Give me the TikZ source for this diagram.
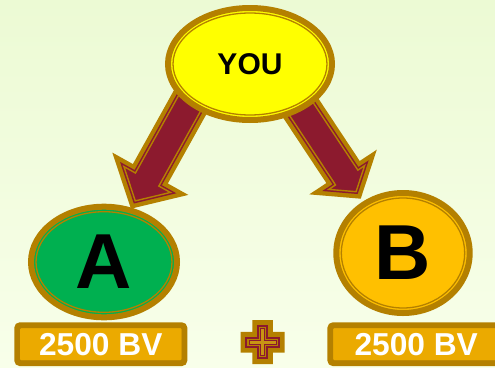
\documentclass[tikz,border=0pt]{standalone}
\usepackage{fontspec}
\setmainfont{Liberation Sans}
\usetikzlibrary{shapes.geometric}
\definecolor{bord}{RGB}{180,128,0}
\definecolor{crim}{RGB}{140,26,46}
\definecolor{youyel}{RGB}{255,255,0}
\definecolor{agreen}{RGB}{0,176,80}
\definecolor{bgold}{RGB}{255,192,0}
\definecolor{boxgold}{RGB}{235,170,0}
\definecolor{plusgold}{RGB}{200,148,20}
\definecolor{bgtop}{RGB}{236,250,212}
\definecolor{bgbot}{RGB}{248,255,234}

% one layer of a block arrow, tip at origin, pointing along +x
% #1 length, #2 head length, #3 half head width, #4 half shaft width, #5 inset, #6 style
\newcommand{\arrowlayer}[6]{%
  \pgfmathsetmacro{\akk}{sqrt(1+(#3/#2)^2)}%
  \pgfmathsetmacro{\atipx}{-#5*\akk*#2/#3}%
  \pgfmathsetmacro{\abackx}{-#2+#5}%
  \pgfmathsetmacro{\acory}{#3*(#2-#5)/#2-#5*\akk}%
  \pgfmathsetmacro{\ashy}{#4-#5}%
  \pgfmathsetmacro{\atailx}{-#1+#5}%
  \path[#6] (\atailx,\ashy) -- (\abackx,\ashy) -- (\abackx,\acory) -- (\atipx,0)
     -- (\abackx,-\acory) -- (\abackx,-\ashy) -- (\atailx,-\ashy) -- cycle;
}
% #1 tip coordinate, #2 angle, #3 length, #4 head length, #5 half head width, #6 half shaft width
\newcommand{\blockarrow}[6]{%
  \begin{scope}[shift={(#1)},rotate=#2]
    \arrowlayer{#3}{#4}{#5}{#6}{0}{fill=bord}
    \arrowlayer{#3}{#4}{#5}{#6}{4.4}{fill=crim}
    \arrowlayer{#3}{#4}{#5}{#6}{6.6}{draw=bord,line width=1.4}
  \end{scope}}
% cross outline: #1 half extent, #2 half arm width, #3 style
\newcommand{\crossat}[3]{%
  \path[#3] (#2,#1) -- (#2,#2) -- (#1,#2) -- (#1,-#2) -- (#2,-#2) -- (#2,-#1)
    -- (-#2,-#1) -- (-#2,-#2) -- (-#1,-#2) -- (-#1,#2) -- (-#2,#2) -- (-#2,#1) -- cycle;}

\begin{document}
\begin{tikzpicture}[x=1pt,y=-1pt,
  ring/.style={ellipse, draw=bord, line width=6, inner sep=0},
  innerline/.style={draw=bord, line width=1.3},
  bv/.style={rectangle, rounded corners=3, draw=bord, fill=boxgold, line width=5.5,
    inner sep=0, text=white, font=\bfseries\fontsize{31.7}{32}\selectfont},
  bigletter/.style={font=\bfseries\fontsize{78}{80}\selectfont}]
\useasboundingbox (0,0) rectangle (495,367);
\clip (0,0) rectangle (495,367);
\shade[top color=bgtop, bottom color=bgbot] (0,0) rectangle (495,367);

% arrows
\coordinate (tipa) at (130.9,208.7);
\coordinate (tipb) at (360.7,198.7);
\blockarrow{tipa}{-119.1}{135}{40}{43.5}{20}
\blockarrow{tipb}{-56.5}{130}{32}{40.5}{20}

% YOU
\node[ring, fill=youyel, minimum width=164, minimum height=112,
  font=\bfseries\fontsize{30}{30}\selectfont] (you) at (250,64) {YOU};
\draw[innerline] (you.center) ellipse [x radius=77, y radius=51];

% A
\node[ring, fill=agreen, minimum width=146, minimum height=110.6, bigletter] (a) at (104,262) {A};
\draw[innerline] (a.center) ellipse [x radius=68, y radius=50.3];

% B
\node[ring, fill=bgold, minimum width=133.4, minimum height=120, bigletter] (b) at (403,253) {B};
\draw[innerline] (b.center) ellipse [x radius=61.7, y radius=55];

% boxes
\node[bv, minimum width=167.5, minimum height=38.2] (boxa) at (100.8,344.2) {2500 BV};
\draw[innerline, rounded corners=1.5] ([shift={(5,5)}]boxa.north west) rectangle ([shift={(-5,-5)}]boxa.south east);
\node[bv, minimum width=172, minimum height=38.2] (boxb) at (416.2,344.2) {2500 BV};
\draw[innerline, rounded corners=1.5] ([shift={(5,5)}]boxb.north west) rectangle ([shift={(-5,-5)}]boxb.south east);

% plus
\coordinate (plus) at (262.6,342.2);
\begin{scope}[shift={(plus)}]
  \crossat{22}{10.3}{fill=bord}
  \crossat{16.2}{4.5}{draw=crim, line width=2}
  \crossat{13.6}{1.9}{draw=crim, line width=1, fill=plusgold}
\end{scope}
\end{tikzpicture}
\end{document}
